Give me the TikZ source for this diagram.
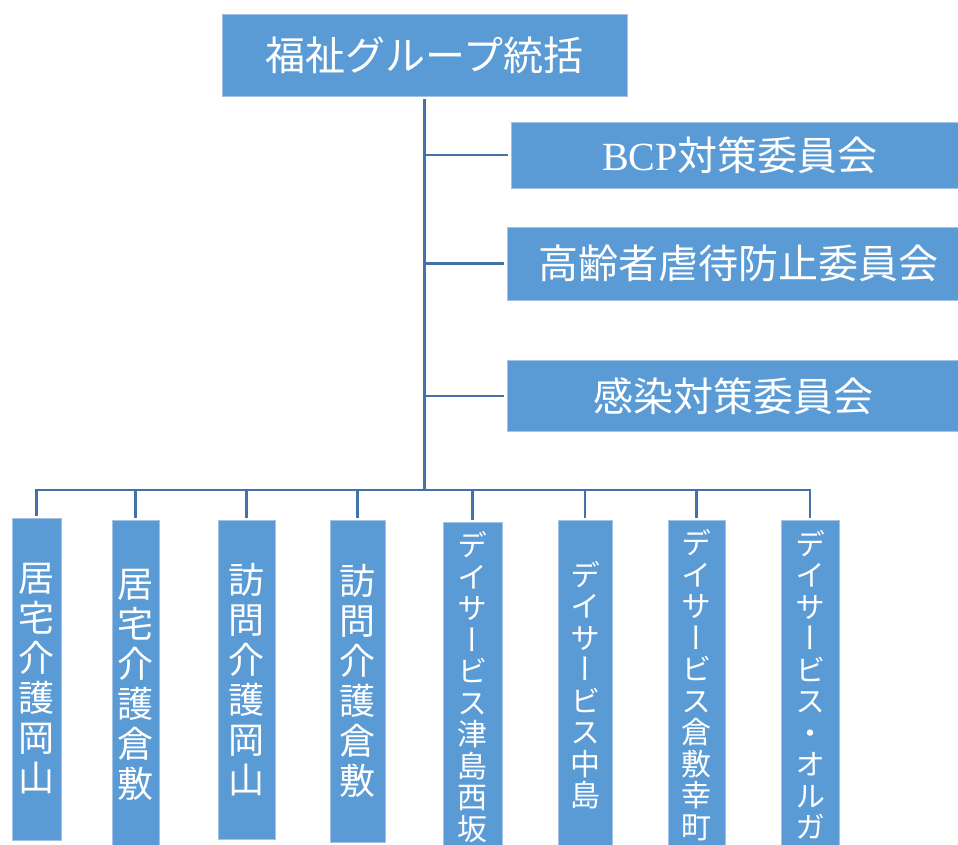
\documentclass[tikz,border=0pt]{standalone}
\usepackage{fontspec}
\setmainfont{Noto Sans CJK JP}
\newfontfamily\vfont[RawFeature=+vert]{Noto Sans CJK JP}
\newfontfamily\latfont{Liberation Serif}
\definecolor{boxfill}{HTML}{5B9BD5}
\definecolor{boxedge}{HTML}{A4C2E6}
\definecolor{linkcol}{HTML}{4472A6}
\begin{document}
\begin{tikzpicture}[x=1pt,y=-1pt,
  box/.style={rectangle, fill=boxfill, draw=boxedge, line width=0.8pt, inner sep=0pt, text=white},
  hbox/.style={box, font=\fontsize{40}{44}\selectfont},
  vbig/.style={box, align=center, font=\vfont\fontsize{36}{40}\selectfont},
  vsmall/.style={box, align=center, font=\vfont\fontsize{30}{31.5}\selectfont},
  link/.style={draw=linkcol, line width=2.8pt}]
\useasboundingbox (0,0) rectangle (958,844);
\clip (0,0) rectangle (958,844);

% top and committees
\node[hbox, minimum width=405pt, minimum height=82pt] (top) at (424.5,55) {福祉グループ統括};
\node[hbox, minimum width=458pt, minimum height=66pt] (bcp) at (740,155) {{\latfont BCP}対策委員会};
\node[hbox, minimum width=463pt, minimum height=73pt] (abuse) at (738.5,263.5) {高齢者虐待防止委員会};
\node[hbox, minimum width=453pt, minimum height=71pt] (infect) at (733.5,396) {感染対策委員会};

% bottom units
\node[vbig, minimum width=49pt, minimum height=322pt] (n1) at (36.5,679) {居\\宅\\介\\護\\岡\\山};
\node[vbig, minimum width=47pt, minimum height=330pt] (n2) at (135.5,685) {居\\宅\\介\\護\\倉\\敷};
\node[vbig, minimum width=57pt, minimum height=319pt] (n3) at (246.5,679.5) {訪\\問\\介\\護\\岡\\山};
\node[vbig, minimum width=55pt, minimum height=322pt] (n4) at (357.5,681) {訪\\問\\介\\護\\倉\\敷};
\node[vsmall, minimum width=59pt, minimum height=330pt] (n5) at (472.5,687) {デ\\イ\\サ\\ー\\ビ\\ス\\津\\島\\西\\坂};
\node[vsmall, minimum width=54pt, minimum height=330pt] (n6) at (585,685) {デ\\イ\\サ\\ー\\ビ\\ス\\中\\島};
\node[vsmall, minimum width=57pt, minimum height=330pt] (n7) at (696.5,685) {デ\\イ\\サ\\ー\\ビ\\ス\\倉\\敷\\幸\\町};
\node[vsmall, minimum width=58pt, minimum height=330pt] (n8) at (810,685) {デ\\イ\\サ\\ー\\ビ\\ス\\・\\オ\\ル\\ガ};

% connectors
\coordinate (bus) at (0,490);
\draw[link] ([yshift=-3pt]top.south) -- (top.south |- bus);
\foreach \c in {bcp,abuse,infect}
  \draw[link] (top.south |- \c.west) -- ([xshift=-3pt]\c.west);
\draw[link, line cap=rect] (n1.north |- bus) -- (n8.north |- bus);
\foreach \n in {n1,n2,n3,n4,n5,n6,n7,n8}
  \draw[link] (\n.north |- bus) -- ([yshift=2pt]\n.north);
\end{tikzpicture}
\end{document}
